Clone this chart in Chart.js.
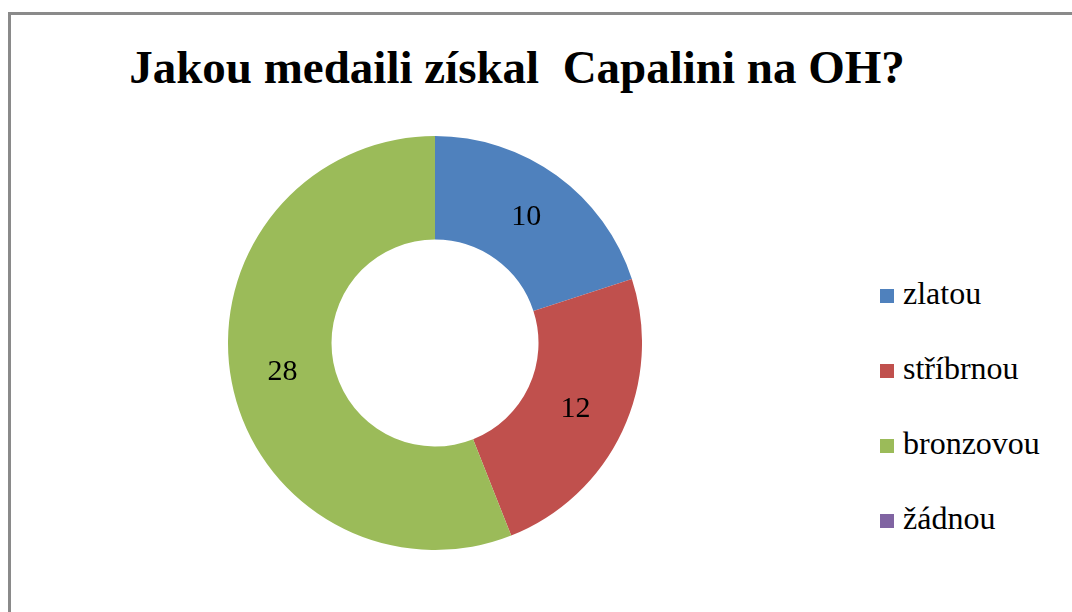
<!DOCTYPE html>
<html>
<head>
<meta charset="utf-8">
<script src="https://cdn.jsdelivr.net/npm/chart.js"></script>
<style>
  html, body { margin: 0; padding: 0; background: #fff; }
  body { width: 1072px; height: 612px; position: relative; overflow: hidden; }
  #frame { position: absolute; left: 8px; top: 12px; width: 1100px; height: 700px; border: 3px solid #8a8a8a; box-sizing: border-box; }
  #title { position: absolute; left: 0; width: 1034px; top: 37px; text-align: center; font-family: 'Liberation Serif', Tinos, serif; font-weight: bold; font-size: 47px; line-height: 60px; color: #000; white-space: pre; }
  #chartBox { position: absolute; left: 228px; top: 136px; width: 414px; height: 414px; }
  #legend { position: absolute; left: 880px; top: 256px; font-family: 'Liberation Serif', Tinos, serif; }
  .item { height: 75px; display: flex; align-items: center; font-size: 32px; color: #000; }
  .swatch { width: 14px; height: 14px; margin-right: 9px; position: relative; top: 2px; }
</style>
</head>
<body>
<div id="frame"></div>
<div id="title"></div>
<div id="chartBox"><canvas id="medals"></canvas></div>
<div id="legend"></div>
<script>
const chartTitle = 'Jakou medaili získal  Capalini na OH?'
const labels = ['zlatou', 'stříbrnou', 'bronzovou', 'žádnou']
const values = [10, 12, 28, 0]
const colors = ['#4f81bd', '#c0504d', '#9bbb59', '#8064a2']

document.getElementById('title').textContent = chartTitle

// legend
const legend = document.getElementById('legend')
labels.forEach((l, i) => {
	const row = document.createElement('div')
	row.className = 'item'
	const sw = document.createElement('span')
	sw.className = 'swatch'
	sw.style.background = colors[i]
	const txt = document.createElement('span')
	txt.textContent = l
	row.appendChild(sw)
	row.appendChild(txt)
	legend.appendChild(row)
})

// value labels in the middle of each slice
const sliceLabels = {
	id: 'sliceLabels',
	afterDatasetsDraw(chart) {
		const ctx = chart.ctx
		const meta = chart.getDatasetMeta(0)
		ctx.save()
		ctx.font = "30px 'Liberation Serif', Tinos, serif"
		ctx.fillStyle = '#000'
		ctx.textAlign = 'center'
		ctx.textBaseline = 'middle'
		meta.data.forEach((arc, i) => {
			const v = chart.data.datasets[0].data[i]
			if (!v) return
			const p = arc.getCenterPoint()
			ctx.fillText(String(v), p.x, p.y)
		})
		ctx.restore()
	},
}

new Chart(document.getElementById('medals'), {
	type: 'doughnut',
	data: {
		labels: labels,
		datasets: [{
			data: values,
			backgroundColor: colors,
			borderWidth: 0,
		}],
	},
	options: {
		responsive: true,
		maintainAspectRatio: false,
		animation: false,
		cutout: '50%',
		layout: { padding: 0 },
		plugins: {
			legend: { display: false },
			tooltip: { enabled: false },
		},
	},
	plugins: [sliceLabels],
})
</script>
</body>
</html>
